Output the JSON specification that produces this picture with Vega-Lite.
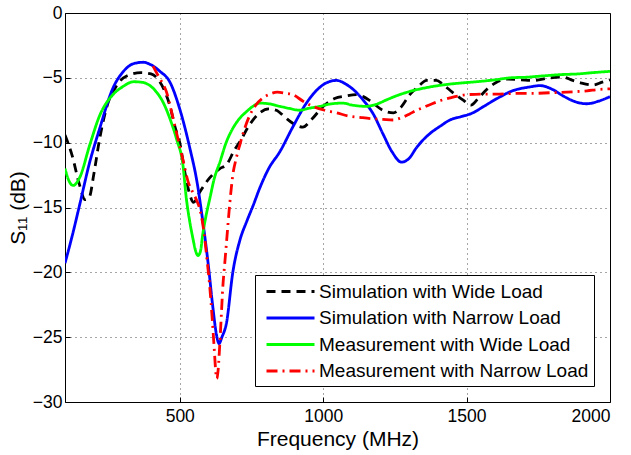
{
  "$schema": "https://vega.github.io/schema/vega-lite/v6.json",
  "width": 545,
  "height": 389,
  "autosize": {"type": "none"},
  "padding": {"left": 65, "top": 13, "right": 21, "bottom": 53},
  "background": "white",
  "config": {
    "view": {"stroke": "black", "strokeWidth": 1},
    "axis": {
      "domain": false,
      "grid": true,
      "gridDash": [1, 4],
      "gridColor": "#000000",
      "gridOpacity": 0.7,
      "gridWidth": 1,
      "ticks": true,
      "tickSize": -5,
      "tickColor": "#000000",
      "labelFont": "Liberation Sans",
      "labelFontSize": 17.5,
      "labelColor": "#000000",
      "titleFont": "Liberation Sans",
      "titleFontSize": 21,
      "titleFontWeight": "normal",
      "titleColor": "#000000"
    },
    "legend": {
      "labelFont": "Liberation Sans",
      "labelFontSize": 19,
      "labelColor": "#000000",
      "labelLimit": 400
    }
  },
  "data": {
    "values": [
      {"series": "Simulation with Wide Load", "f": 100, "db": -9.4},
      {"series": "Simulation with Wide Load", "f": 125, "db": -11.0},
      {"series": "Simulation with Wide Load", "f": 150, "db": -13.2},
      {"series": "Simulation with Wide Load", "f": 170, "db": -14.4},
      {"series": "Simulation with Wide Load", "f": 185, "db": -14.2},
      {"series": "Simulation with Wide Load", "f": 200, "db": -12.5},
      {"series": "Simulation with Wide Load", "f": 220, "db": -9.8},
      {"series": "Simulation with Wide Load", "f": 245, "db": -7.3},
      {"series": "Simulation with Wide Load", "f": 280, "db": -5.6},
      {"series": "Simulation with Wide Load", "f": 320, "db": -4.8},
      {"series": "Simulation with Wide Load", "f": 365, "db": -4.6},
      {"series": "Simulation with Wide Load", "f": 400, "db": -4.7},
      {"series": "Simulation with Wide Load", "f": 420, "db": -5.0},
      {"series": "Simulation with Wide Load", "f": 445, "db": -5.9},
      {"series": "Simulation with Wide Load", "f": 465, "db": -7.1},
      {"series": "Simulation with Wide Load", "f": 485, "db": -8.9},
      {"series": "Simulation with Wide Load", "f": 500, "db": -10.0},
      {"series": "Simulation with Wide Load", "f": 518, "db": -12.3},
      {"series": "Simulation with Wide Load", "f": 535, "db": -14.0},
      {"series": "Simulation with Wide Load", "f": 548, "db": -14.6},
      {"series": "Simulation with Wide Load", "f": 570, "db": -13.8},
      {"series": "Simulation with Wide Load", "f": 605, "db": -12.7},
      {"series": "Simulation with Wide Load", "f": 640, "db": -12.0},
      {"series": "Simulation with Wide Load", "f": 663, "db": -11.7},
      {"series": "Simulation with Wide Load", "f": 690, "db": -10.6},
      {"series": "Simulation with Wide Load", "f": 709, "db": -9.95},
      {"series": "Simulation with Wide Load", "f": 744, "db": -8.6},
      {"series": "Simulation with Wide Load", "f": 779, "db": -7.7},
      {"series": "Simulation with Wide Load", "f": 810, "db": -7.4},
      {"series": "Simulation with Wide Load", "f": 837, "db": -7.5},
      {"series": "Simulation with Wide Load", "f": 865, "db": -8.0},
      {"series": "Simulation with Wide Load", "f": 894, "db": -8.5},
      {"series": "Simulation with Wide Load", "f": 929, "db": -8.8},
      {"series": "Simulation with Wide Load", "f": 960, "db": -8.2},
      {"series": "Simulation with Wide Load", "f": 1000, "db": -7.2},
      {"series": "Simulation with Wide Load", "f": 1040, "db": -6.6},
      {"series": "Simulation with Wide Load", "f": 1080, "db": -6.4},
      {"series": "Simulation with Wide Load", "f": 1115, "db": -6.3},
      {"series": "Simulation with Wide Load", "f": 1140, "db": -6.45},
      {"series": "Simulation with Wide Load", "f": 1165, "db": -6.8},
      {"series": "Simulation with Wide Load", "f": 1208, "db": -7.5},
      {"series": "Simulation with Wide Load", "f": 1245, "db": -7.7},
      {"series": "Simulation with Wide Load", "f": 1270, "db": -7.3},
      {"series": "Simulation with Wide Load", "f": 1302, "db": -6.3},
      {"series": "Simulation with Wide Load", "f": 1330, "db": -5.7},
      {"series": "Simulation with Wide Load", "f": 1361, "db": -5.2},
      {"series": "Simulation with Wide Load", "f": 1395, "db": -5.2},
      {"series": "Simulation with Wide Load", "f": 1417, "db": -5.5},
      {"series": "Simulation with Wide Load", "f": 1450, "db": -6.1},
      {"series": "Simulation with Wide Load", "f": 1487, "db": -6.7},
      {"series": "Simulation with Wide Load", "f": 1515, "db": -7.1},
      {"series": "Simulation with Wide Load", "f": 1540, "db": -6.6},
      {"series": "Simulation with Wide Load", "f": 1570, "db": -5.9},
      {"series": "Simulation with Wide Load", "f": 1600, "db": -5.4},
      {"series": "Simulation with Wide Load", "f": 1640, "db": -5.1},
      {"series": "Simulation with Wide Load", "f": 1690, "db": -5.15},
      {"series": "Simulation with Wide Load", "f": 1731, "db": -5.2},
      {"series": "Simulation with Wide Load", "f": 1790, "db": -5.0},
      {"series": "Simulation with Wide Load", "f": 1836, "db": -4.95},
      {"series": "Simulation with Wide Load", "f": 1870, "db": -5.2},
      {"series": "Simulation with Wide Load", "f": 1900, "db": -5.4},
      {"series": "Simulation with Wide Load", "f": 1941, "db": -5.55},
      {"series": "Simulation with Wide Load", "f": 1970, "db": -5.35},
      {"series": "Simulation with Wide Load", "f": 2000, "db": -5.15},

      {"series": "Simulation with Narrow Load", "f": 100, "db": -19.3},
      {"series": "Simulation with Narrow Load", "f": 125, "db": -17.2},
      {"series": "Simulation with Narrow Load", "f": 151, "db": -14.8},
      {"series": "Simulation with Narrow Load", "f": 185, "db": -11.6},
      {"series": "Simulation with Narrow Load", "f": 221, "db": -8.9},
      {"series": "Simulation with Narrow Load", "f": 267, "db": -5.8},
      {"series": "Simulation with Narrow Load", "f": 300, "db": -4.6},
      {"series": "Simulation with Narrow Load", "f": 340, "db": -3.9},
      {"series": "Simulation with Narrow Load", "f": 372, "db": -3.8},
      {"series": "Simulation with Narrow Load", "f": 400, "db": -4.0},
      {"series": "Simulation with Narrow Load", "f": 431, "db": -4.5},
      {"series": "Simulation with Narrow Load", "f": 465, "db": -5.3},
      {"series": "Simulation with Narrow Load", "f": 500, "db": -7.4},
      {"series": "Simulation with Narrow Load", "f": 535, "db": -10.4},
      {"series": "Simulation with Narrow Load", "f": 560, "db": -13.0},
      {"series": "Simulation with Narrow Load", "f": 580, "db": -16.0},
      {"series": "Simulation with Narrow Load", "f": 600, "db": -19.5},
      {"series": "Simulation with Narrow Load", "f": 615, "db": -22.6},
      {"series": "Simulation with Narrow Load", "f": 628, "db": -24.8},
      {"series": "Simulation with Narrow Load", "f": 637, "db": -25.5},
      {"series": "Simulation with Narrow Load", "f": 647, "db": -25.0},
      {"series": "Simulation with Narrow Load", "f": 663, "db": -23.9},
      {"series": "Simulation with Narrow Load", "f": 685, "db": -20.0},
      {"series": "Simulation with Narrow Load", "f": 710, "db": -17.5},
      {"series": "Simulation with Narrow Load", "f": 733, "db": -16.1},
      {"series": "Simulation with Narrow Load", "f": 755, "db": -14.9},
      {"series": "Simulation with Narrow Load", "f": 779, "db": -13.5},
      {"series": "Simulation with Narrow Load", "f": 810, "db": -12.0},
      {"series": "Simulation with Narrow Load", "f": 849, "db": -10.7},
      {"series": "Simulation with Narrow Load", "f": 894, "db": -8.8},
      {"series": "Simulation with Narrow Load", "f": 940, "db": -7.0},
      {"series": "Simulation with Narrow Load", "f": 980, "db": -5.9},
      {"series": "Simulation with Narrow Load", "f": 1010, "db": -5.4},
      {"series": "Simulation with Narrow Load", "f": 1047, "db": -5.2},
      {"series": "Simulation with Narrow Load", "f": 1080, "db": -5.5},
      {"series": "Simulation with Narrow Load", "f": 1110, "db": -6.0},
      {"series": "Simulation with Narrow Load", "f": 1139, "db": -6.7},
      {"series": "Simulation with Narrow Load", "f": 1175, "db": -7.8},
      {"series": "Simulation with Narrow Load", "f": 1208, "db": -9.3},
      {"series": "Simulation with Narrow Load", "f": 1240, "db": -10.7},
      {"series": "Simulation with Narrow Load", "f": 1273, "db": -11.5},
      {"series": "Simulation with Narrow Load", "f": 1300, "db": -11.2},
      {"series": "Simulation with Narrow Load", "f": 1325, "db": -10.4},
      {"series": "Simulation with Narrow Load", "f": 1348, "db": -9.8},
      {"series": "Simulation with Narrow Load", "f": 1372, "db": -9.3},
      {"series": "Simulation with Narrow Load", "f": 1410, "db": -8.7},
      {"series": "Simulation with Narrow Load", "f": 1442, "db": -8.25},
      {"series": "Simulation with Narrow Load", "f": 1480, "db": -8.0},
      {"series": "Simulation with Narrow Load", "f": 1522, "db": -7.7},
      {"series": "Simulation with Narrow Load", "f": 1560, "db": -7.2},
      {"series": "Simulation with Narrow Load", "f": 1606, "db": -6.6},
      {"series": "Simulation with Narrow Load", "f": 1660, "db": -6.0},
      {"series": "Simulation with Narrow Load", "f": 1721, "db": -5.7},
      {"series": "Simulation with Narrow Load", "f": 1756, "db": -5.6},
      {"series": "Simulation with Narrow Load", "f": 1800, "db": -5.9},
      {"series": "Simulation with Narrow Load", "f": 1837, "db": -6.4},
      {"series": "Simulation with Narrow Load", "f": 1880, "db": -6.85},
      {"series": "Simulation with Narrow Load", "f": 1919, "db": -7.0},
      {"series": "Simulation with Narrow Load", "f": 1960, "db": -6.8},
      {"series": "Simulation with Narrow Load", "f": 2000, "db": -6.45},

      {"series": "Measurement with Wide Load", "f": 100, "db": -12.0},
      {"series": "Measurement with Wide Load", "f": 113, "db": -12.9},
      {"series": "Measurement with Wide Load", "f": 128, "db": -13.3},
      {"series": "Measurement with Wide Load", "f": 151, "db": -12.7},
      {"series": "Measurement with Wide Load", "f": 186, "db": -10.2},
      {"series": "Measurement with Wide Load", "f": 221, "db": -7.9},
      {"series": "Measurement with Wide Load", "f": 267, "db": -6.3},
      {"series": "Measurement with Wide Load", "f": 300, "db": -5.7},
      {"series": "Measurement with Wide Load", "f": 340, "db": -5.3},
      {"series": "Measurement with Wide Load", "f": 370, "db": -5.35},
      {"series": "Measurement with Wide Load", "f": 419, "db": -6.1},
      {"series": "Measurement with Wide Load", "f": 440, "db": -6.8},
      {"series": "Measurement with Wide Load", "f": 465, "db": -8.1},
      {"series": "Measurement with Wide Load", "f": 490, "db": -9.8},
      {"series": "Measurement with Wide Load", "f": 511, "db": -11.7},
      {"series": "Measurement with Wide Load", "f": 523, "db": -14.3},
      {"series": "Measurement with Wide Load", "f": 535, "db": -16.1},
      {"series": "Measurement with Wide Load", "f": 546, "db": -17.4},
      {"series": "Measurement with Wide Load", "f": 556, "db": -18.4},
      {"series": "Measurement with Wide Load", "f": 564, "db": -18.7},
      {"series": "Measurement with Wide Load", "f": 572, "db": -18.4},
      {"series": "Measurement with Wide Load", "f": 580, "db": -17.1},
      {"series": "Measurement with Wide Load", "f": 592, "db": -15.6},
      {"series": "Measurement with Wide Load", "f": 605, "db": -14.3},
      {"series": "Measurement with Wide Load", "f": 620, "db": -12.8},
      {"series": "Measurement with Wide Load", "f": 640, "db": -11.5},
      {"series": "Measurement with Wide Load", "f": 660, "db": -10.1},
      {"series": "Measurement with Wide Load", "f": 685, "db": -8.9},
      {"series": "Measurement with Wide Load", "f": 710, "db": -8.1},
      {"series": "Measurement with Wide Load", "f": 733, "db": -7.6},
      {"series": "Measurement with Wide Load", "f": 755, "db": -7.2},
      {"series": "Measurement with Wide Load", "f": 779, "db": -6.95},
      {"series": "Measurement with Wide Load", "f": 810, "db": -7.0},
      {"series": "Measurement with Wide Load", "f": 849, "db": -7.2},
      {"series": "Measurement with Wide Load", "f": 880, "db": -7.35},
      {"series": "Measurement with Wide Load", "f": 919, "db": -7.5},
      {"series": "Measurement with Wide Load", "f": 950, "db": -7.35},
      {"series": "Measurement with Wide Load", "f": 988, "db": -7.2},
      {"series": "Measurement with Wide Load", "f": 1030, "db": -7.0},
      {"series": "Measurement with Wide Load", "f": 1069, "db": -6.95},
      {"series": "Measurement with Wide Load", "f": 1100, "db": -7.1},
      {"series": "Measurement with Wide Load", "f": 1151, "db": -7.2},
      {"series": "Measurement with Wide Load", "f": 1190, "db": -7.0},
      {"series": "Measurement with Wide Load", "f": 1221, "db": -6.7},
      {"series": "Measurement with Wide Load", "f": 1260, "db": -6.35},
      {"series": "Measurement with Wide Load", "f": 1302, "db": -6.05},
      {"series": "Measurement with Wide Load", "f": 1350, "db": -5.8},
      {"series": "Measurement with Wide Load", "f": 1417, "db": -5.55},
      {"series": "Measurement with Wide Load", "f": 1480, "db": -5.4},
      {"series": "Measurement with Wide Load", "f": 1535, "db": -5.3},
      {"series": "Measurement with Wide Load", "f": 1600, "db": -5.15},
      {"series": "Measurement with Wide Load", "f": 1651, "db": -5.0},
      {"series": "Measurement with Wide Load", "f": 1710, "db": -4.95},
      {"series": "Measurement with Wide Load", "f": 1767, "db": -4.85},
      {"series": "Measurement with Wide Load", "f": 1830, "db": -4.75},
      {"series": "Measurement with Wide Load", "f": 1886, "db": -4.7},
      {"series": "Measurement with Wide Load", "f": 1940, "db": -4.6},
      {"series": "Measurement with Wide Load", "f": 2000, "db": -4.5},

      {"series": "Measurement with Narrow Load", "f": 407, "db": -4.1},
      {"series": "Measurement with Narrow Load", "f": 419, "db": -4.6},
      {"series": "Measurement with Narrow Load", "f": 437, "db": -5.3},
      {"series": "Measurement with Narrow Load", "f": 454, "db": -6.1},
      {"series": "Measurement with Narrow Load", "f": 468, "db": -7.3},
      {"series": "Measurement with Narrow Load", "f": 483, "db": -8.7},
      {"series": "Measurement with Narrow Load", "f": 497, "db": -10.0},
      {"series": "Measurement with Narrow Load", "f": 512, "db": -11.4},
      {"series": "Measurement with Narrow Load", "f": 529, "db": -13.0},
      {"series": "Measurement with Narrow Load", "f": 547, "db": -13.9},
      {"series": "Measurement with Narrow Load", "f": 560, "db": -14.5},
      {"series": "Measurement with Narrow Load", "f": 572, "db": -15.3},
      {"series": "Measurement with Narrow Load", "f": 585, "db": -17.0},
      {"series": "Measurement with Narrow Load", "f": 595, "db": -19.0},
      {"series": "Measurement with Narrow Load", "f": 605, "db": -21.2},
      {"series": "Measurement with Narrow Load", "f": 613, "db": -23.5},
      {"series": "Measurement with Narrow Load", "f": 620, "db": -25.8},
      {"series": "Measurement with Narrow Load", "f": 625, "db": -27.5},
      {"series": "Measurement with Narrow Load", "f": 629, "db": -28.2},
      {"series": "Measurement with Narrow Load", "f": 634, "db": -27.5},
      {"series": "Measurement with Narrow Load", "f": 640, "db": -25.4},
      {"series": "Measurement with Narrow Load", "f": 645, "db": -23.3},
      {"series": "Measurement with Narrow Load", "f": 650, "db": -21.2},
      {"series": "Measurement with Narrow Load", "f": 657, "db": -19.3},
      {"series": "Measurement with Narrow Load", "f": 663, "db": -17.7},
      {"series": "Measurement with Narrow Load", "f": 674, "db": -14.8},
      {"series": "Measurement with Narrow Load", "f": 685, "db": -12.5},
      {"series": "Measurement with Narrow Load", "f": 697, "db": -11.2},
      {"series": "Measurement with Narrow Load", "f": 709, "db": -10.2},
      {"series": "Measurement with Narrow Load", "f": 725, "db": -9.0},
      {"series": "Measurement with Narrow Load", "f": 744, "db": -7.9},
      {"series": "Measurement with Narrow Load", "f": 765, "db": -7.1},
      {"series": "Measurement with Narrow Load", "f": 790, "db": -6.55},
      {"series": "Measurement with Narrow Load", "f": 815, "db": -6.25},
      {"series": "Measurement with Narrow Load", "f": 840, "db": -6.1},
      {"series": "Measurement with Narrow Load", "f": 870, "db": -6.2},
      {"series": "Measurement with Narrow Load", "f": 894, "db": -6.3},
      {"series": "Measurement with Narrow Load", "f": 930, "db": -6.8},
      {"series": "Measurement with Narrow Load", "f": 964, "db": -7.2},
      {"series": "Measurement with Narrow Load", "f": 1005, "db": -7.5},
      {"series": "Measurement with Narrow Load", "f": 1047, "db": -7.7},
      {"series": "Measurement with Narrow Load", "f": 1090, "db": -7.95},
      {"series": "Measurement with Narrow Load", "f": 1128, "db": -8.05},
      {"series": "Measurement with Narrow Load", "f": 1170, "db": -8.15},
      {"series": "Measurement with Narrow Load", "f": 1208, "db": -8.2},
      {"series": "Measurement with Narrow Load", "f": 1243, "db": -8.25},
      {"series": "Measurement with Narrow Load", "f": 1270, "db": -8.1},
      {"series": "Measurement with Narrow Load", "f": 1300, "db": -7.8},
      {"series": "Measurement with Narrow Load", "f": 1326, "db": -7.5},
      {"series": "Measurement with Narrow Load", "f": 1348, "db": -7.3},
      {"series": "Measurement with Narrow Load", "f": 1380, "db": -7.0},
      {"series": "Measurement with Narrow Load", "f": 1417, "db": -6.7},
      {"series": "Measurement with Narrow Load", "f": 1442, "db": -6.55},
      {"series": "Measurement with Narrow Load", "f": 1470, "db": -6.4},
      {"series": "Measurement with Narrow Load", "f": 1500, "db": -6.3},
      {"series": "Measurement with Narrow Load", "f": 1560, "db": -6.25},
      {"series": "Measurement with Narrow Load", "f": 1616, "db": -6.25},
      {"series": "Measurement with Narrow Load", "f": 1680, "db": -6.2},
      {"series": "Measurement with Narrow Load", "f": 1731, "db": -6.2},
      {"series": "Measurement with Narrow Load", "f": 1790, "db": -6.15},
      {"series": "Measurement with Narrow Load", "f": 1849, "db": -6.1},
      {"series": "Measurement with Narrow Load", "f": 1920, "db": -6.0},
      {"series": "Measurement with Narrow Load", "f": 1960, "db": -5.9},
      {"series": "Measurement with Narrow Load", "f": 2000, "db": -5.85}
    ]
  },
  "mark": {"type": "line", "interpolate": "monotone", "strokeWidth": 2.8, "clip": true},
  "encoding": {
    "x": {
      "field": "f",
      "type": "quantitative",
      "scale": {"domain": [100, 2000], "nice": false, "zero": false},
      "axis": {"values": [500, 1000, 1500, 2000], "format": "d", "title": "Frequency (MHz)", "labelPadding": 10, "titlePadding": 4}
    },
    "y": {
      "field": "db",
      "type": "quantitative",
      "scale": {"domain": [-30, 0], "nice": false, "zero": false},
      "axis": {"values": [-30, -25, -20, -15, -10, -5, 0], "title": "S₁₁ (dB)", "labelPadding": 8, "titlePadding": 4}
    },
    "color": {
      "field": "series",
      "type": "nominal",
      "sort": null,
      "scale": {
        "domain": ["Simulation with Wide Load", "Simulation with Narrow Load", "Measurement with Wide Load", "Measurement with Narrow Load"],
        "range": ["#000000", "#0000ff", "#00ff00", "#ff0000"]
      },
      "legend": {
        "title": null,
        "orient": "none",
        "legendX": 190,
        "legendY": 262,
        "fillColor": "white",
        "strokeColor": "black",
        "padding": 5,
        "symbolType": "M-2.4,0H2.4",
        "symbolSize": 400,
        "symbolStrokeWidth": 3,
        "symbolOffset": 19,
        "labelOffset": 17,
        "rowPadding": 4.5
      }
    },
    "strokeDash": {
      "field": "series",
      "type": "nominal",
      "sort": null,
      "scale": {
        "domain": ["Simulation with Wide Load", "Simulation with Narrow Load", "Measurement with Wide Load", "Measurement with Narrow Load"],
        "range": [[9, 6], [1, 0], [1, 0], [11, 5, 2, 5]]
      },
      "legend": {
        "title": null,
        "orient": "none",
        "legendX": 190,
        "legendY": 262,
        "fillColor": "white",
        "strokeColor": "black",
        "padding": 5,
        "symbolType": "M-2.4,0H2.4",
        "symbolSize": 400,
        "symbolStrokeWidth": 3,
        "symbolOffset": 19,
        "labelOffset": 17,
        "rowPadding": 4.5
      }
    }
  }
}
